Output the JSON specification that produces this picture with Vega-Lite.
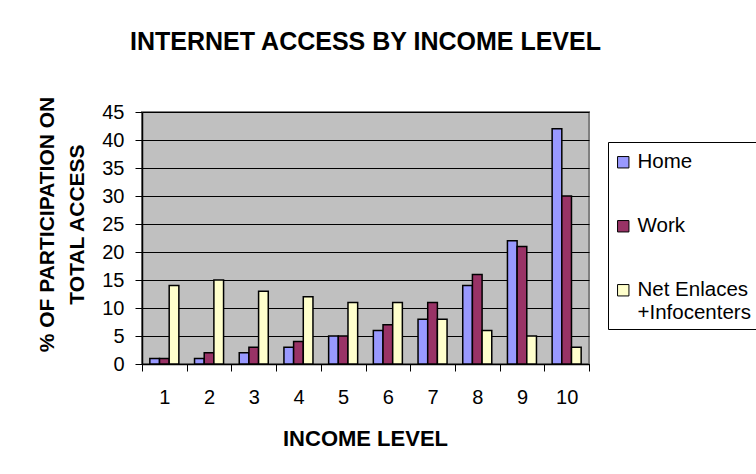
{
  "$schema": "https://vega.github.io/schema/vega-lite/v6.json",
  "width": 447,
  "height": 252,
  "autosize": {"type": "none"},
  "padding": {"left": 142, "top": 112, "right": 167, "bottom": 110},
  "background": "white",
  "title": {
    "text": "INTERNET ACCESS BY INCOME LEVEL",
    "font": "Liberation Sans",
    "fontSize": 25,
    "fontWeight": "bold",
    "color": "black",
    "anchor": "middle",
    "offset": 41
  },
  "data": {
    "values": [
      {"level": "1", "series": "Home", "value": 1},
      {"level": "1", "series": "Work", "value": 1},
      {"level": "1", "series": "Net Enlaces +Infocenters", "value": 14},
      {"level": "2", "series": "Home", "value": 1},
      {"level": "2", "series": "Work", "value": 2},
      {"level": "2", "series": "Net Enlaces +Infocenters", "value": 15},
      {"level": "3", "series": "Home", "value": 2},
      {"level": "3", "series": "Work", "value": 3},
      {"level": "3", "series": "Net Enlaces +Infocenters", "value": 13},
      {"level": "4", "series": "Home", "value": 3},
      {"level": "4", "series": "Work", "value": 4},
      {"level": "4", "series": "Net Enlaces +Infocenters", "value": 12},
      {"level": "5", "series": "Home", "value": 5},
      {"level": "5", "series": "Work", "value": 5},
      {"level": "5", "series": "Net Enlaces +Infocenters", "value": 11},
      {"level": "6", "series": "Home", "value": 6},
      {"level": "6", "series": "Work", "value": 7},
      {"level": "6", "series": "Net Enlaces +Infocenters", "value": 11},
      {"level": "7", "series": "Home", "value": 8},
      {"level": "7", "series": "Work", "value": 11},
      {"level": "7", "series": "Net Enlaces +Infocenters", "value": 8},
      {"level": "8", "series": "Home", "value": 14},
      {"level": "8", "series": "Work", "value": 16},
      {"level": "8", "series": "Net Enlaces +Infocenters", "value": 6},
      {"level": "9", "series": "Home", "value": 22},
      {"level": "9", "series": "Work", "value": 21},
      {"level": "9", "series": "Net Enlaces +Infocenters", "value": 5},
      {"level": "10", "series": "Home", "value": 42},
      {"level": "10", "series": "Work", "value": 30},
      {"level": "10", "series": "Net Enlaces +Infocenters", "value": 3}
    ]
  },
  "mark": {"type": "bar", "stroke": "black", "strokeWidth": 1.5},
  "encoding": {
    "x": {
      "field": "level",
      "type": "ordinal",
      "sort": ["1","2","3","4","5","6","7","8","9","10"],
      "scale": {"paddingInner": 0, "paddingOuter": 0},
      "axis": {
        "title": "INCOME LEVEL",
        "titleFont": "Liberation Sans",
        "titleFontSize": 22,
        "titleFontWeight": "bold",
        "titleColor": "black",
        "titleX": 223,
        "titleY": 81,
        "titleAlign": "center",
        "titleBaseline": "alphabetic",
        "labelAngle": 0,
        "labelFont": "Liberation Sans",
        "labelFontSize": 20,
        "labelColor": "black",
        "labelPadding": 16,
        "tickBand": "extent",
        "tickSize": 7,
        "tickColor": "black",
        "tickWidth": 1,
        "domainColor": "black",
        "domainWidth": 1.5,
        "grid": false
      }
    },
    "xOffset": {
      "field": "series",
      "type": "nominal",
      "sort": ["Home", "Work", "Net Enlaces +Infocenters"],
      "scale": {"paddingInner": 0, "paddingOuter": 0.81}
    },
    "y": {
      "field": "value",
      "type": "quantitative",
      "scale": {"domain": [0, 45], "nice": false},
      "axis": {
        "values": [0,5,10,15,20,25,30,35,40,45],
        "title": ["% OF PARTICIPATION ON", "TOTAL ACCESS"],
        "titleFont": "Liberation Sans",
        "titleFontSize": 21,
        "titleFontWeight": "bold",
        "titleColor": "black",
        "titleLineHeight": 30,
        "titleAngle": -90,
        "titleX": -95,
        "titleY": 112,
        "titleAlign": "center",
        "titleBaseline": "middle",
        "labelFont": "Liberation Sans",
        "labelFontSize": 20,
        "labelColor": "black",
        "labelPadding": 11,
        "tickSize": 7,
        "tickColor": "black",
        "tickWidth": 1,
        "domainColor": "black",
        "domainWidth": 1.5,
        "grid": true,
        "gridColor": "black",
        "gridWidth": 1
      }
    },
    "fill": {
      "field": "series",
      "type": "nominal",
      "sort": ["Home", "Work", "Net Enlaces +Infocenters"],
      "scale": {
        "domain": ["Home", "Work", "Net Enlaces +Infocenters"],
        "range": ["#9999FF", "#993366", "#FFFFCC"]
      },
      "legend": {
        "title": " ",
        "titleFontSize": 1,
        "titlePadding": 4,
        "orient": "none",
        "legendX": 466,
        "legendY": 30,
        "direction": "vertical",
        "symbolType": "square",
        "symbolSize": 130,
        "symbolStrokeColor": "black",
        "symbolStrokeWidth": 1,
        "symbolOpacity": 1,
        "labelFont": "Liberation Sans",
        "labelFontSize": 20.5,
        "labelColor": "black",
        "labelLimit": 300,
        "labelExpr": "datum.label == 'Net Enlaces +Infocenters' ? ['Net Enlaces', '+Infocenters'] : datum.label",
        "rowPadding": 43,
        "padding": 5,
        "strokeColor": "black",
        "fillColor": "white",
        "cornerRadius": 0
      }
    }
  },
  "config": {
    "view": {"fill": "#C0C0C0", "stroke": "#808080", "strokeWidth": 2}
  }
}
